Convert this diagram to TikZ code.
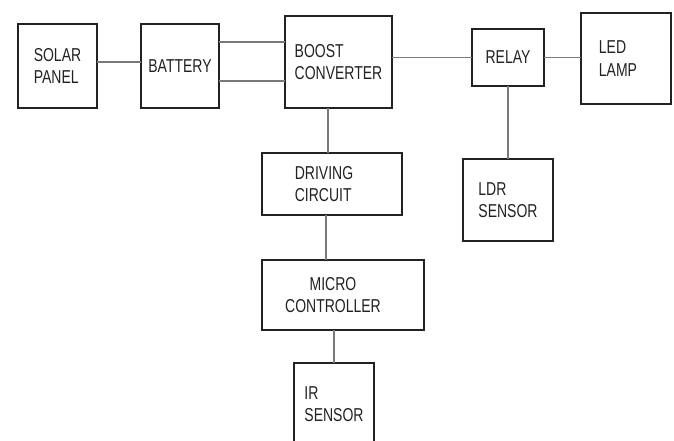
\documentclass[tikz,border=0pt]{standalone}
\usepackage{fontspec}
\usepackage{xcolor}
\usepackage{tikz}
\usetikzlibrary{positioning,calc}
\newfontfamily\blockfont{Liberation Sans}[FakeStretch=0.75]
\definecolor{ink}{HTML}{222222}
\definecolor{wiregray}{HTML}{7A7A7A}
\tikzset{
  block/.style={
    draw=ink,fill=white,line width=1.5pt,
    align=left,text=ink,inner sep=0pt,outer sep=0pt,
    font=\blockfont\fontsize{14}{16.8}\selectfont
  },
  wire/.style={draw=wiregray,line width=1pt}
}

\begin{document}
\begin{tikzpicture}[node distance=33pt]
\useasboundingbox (0,0) rectangle (505.5pt,-330.75pt);
\clip (0,0) rectangle (505.5pt,-330.75pt);

% top row
\node[block,minimum width=59.25pt,minimum height=63pt] (solar)
  at (43.125pt,-49.5pt) {SOLAR\\PANEL};
\node[block,right=33pt of solar,minimum width=58.5pt,minimum height=63pt]
  (battery) {BATTERY};
\node[block,right=49.5pt of battery,yshift=3pt,
  minimum width=80.25pt,minimum height=69pt] (boost) {BOOST\\CONVERTER};
\node[block,right=60pt of boost,yshift=3.375pt,
  minimum width=54pt,minimum height=42.75pt] (relay) {RELAY};
\node[block,right=27.75pt of relay,yshift=-0.75pt,
  minimum width=67.5pt,minimum height=68.25pt] (led) {LED\\LAMP\hspace*{12pt}};

% lower blocks
\node[block,below=54.75pt of relay,minimum width=67.5pt,minimum height=61.5pt]
  (ldr) {LDR\\SENSOR};
\node[block,below=33.75pt of boost,xshift=-4.875pt,
  minimum width=105pt,minimum height=46.5pt] (driving) {DRIVING\hspace*{12pt}\\CIRCUIT};
\node[block,below=33.75pt of driving,xshift=8.25pt,align=center,
  minimum width=121.5pt,minimum height=52.5pt] (micro)
  {MICRO\hspace*{15pt}\\CONTROLLER\hspace*{15pt}};
\node[block,below=24.75pt of micro,xshift=-6.75pt,
  minimum width=60pt,minimum height=61.5pt] (ir) {IR\\SENSOR};

% wiring
\draw[wire] ([yshift=3pt]solar.east) -- ([yshift=3pt]solar.east -| battery.west);
\draw[wire] ([yshift=18pt]battery.east) -- ([yshift=18pt]battery.east -| boost.west);
\draw[wire] ([yshift=-11.25pt]battery.east) -- ([yshift=-11.25pt]battery.east -| boost.west);
\draw[wire] (relay.west) -- (relay.west -| boost.east);
\draw[wire] (relay.east) -- (relay.east -| led.west);
\draw[wire] (relay.south) -- (ldr.north);
\draw[wire] ([xshift=-3pt]driving.north) -- ([xshift=-3pt]driving.north |- boost.south);
\draw[wire] ([xshift=-4.5pt]driving.south) -- ([xshift=-4.5pt]driving.south |- micro.north);
\draw[wire] (ir.north) -- (ir.north |- micro.south);
\end{tikzpicture}
\end{document}
